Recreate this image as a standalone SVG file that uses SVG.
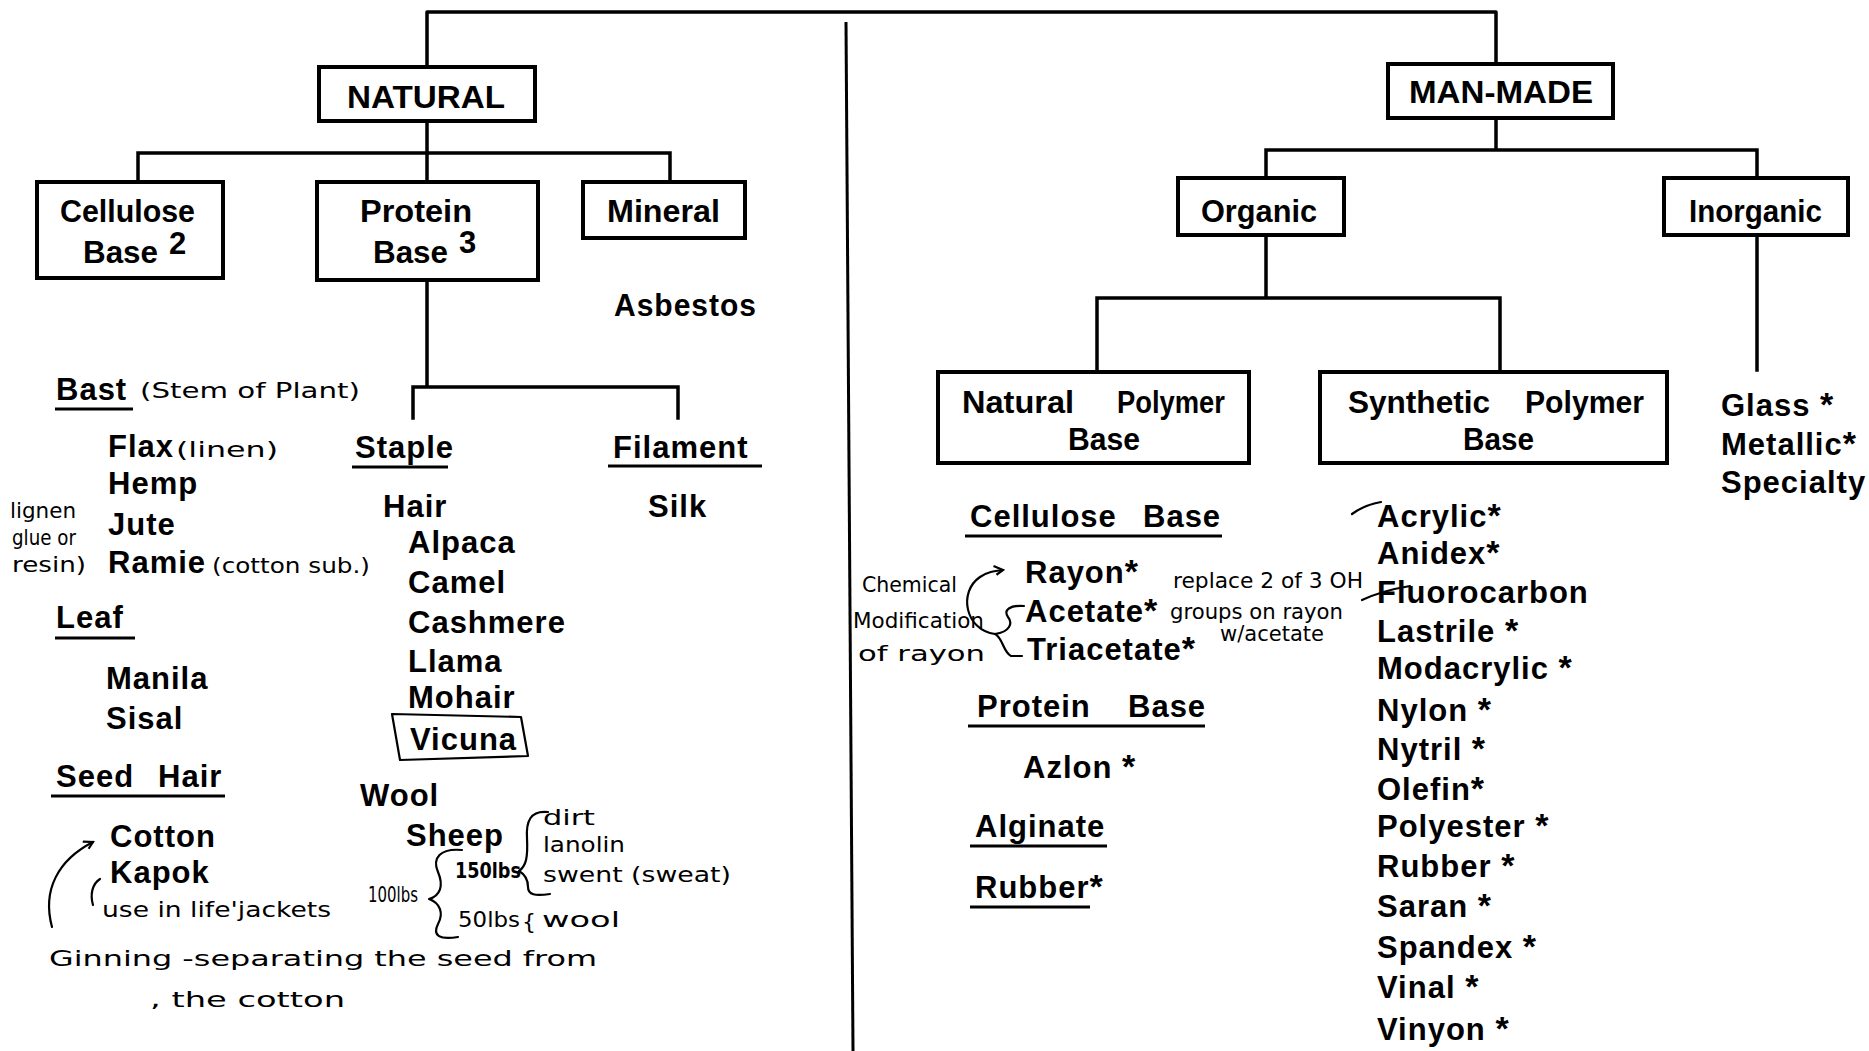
<svg xmlns="http://www.w3.org/2000/svg" width="1869" height="1051" viewBox="0 0 1869 1051">
<defs>
<style>
.box{fill:#fff;stroke:#000;stroke-width:4}
.conn{fill:none;stroke:#000;stroke-width:3.5;stroke-linecap:square;stroke-linejoin:round}
.t{font-family:"Liberation Sans",Arial,sans-serif;font-weight:bold;font-size:31px;fill:#000;letter-spacing:1px}
.b{font-family:"Liberation Sans",Arial,sans-serif;font-weight:bold;font-size:31px;fill:#000}
.ast{font-size:34px}
.h{font-family:"DejaVu Sans",sans-serif;font-size:22px;fill:#000}
.ul{stroke:#000;stroke-width:3;fill:none}
.pen{fill:none;stroke:#000;stroke-width:2.2;stroke-linecap:round;stroke-linejoin:round}
</style>
<marker id="arr" viewBox="0 0 12 12" refX="10" refY="6" markerWidth="12" markerHeight="12" markerUnits="userSpaceOnUse" orient="auto">
<path d="M1,1 L10,6 L3,10" fill="none" stroke="#000" stroke-width="2.2"/>
</marker>
</defs>
<rect width="1869" height="1051" fill="#fff"/>

<g id="connectors">
<path class="conn" d="M427,67 V12 H1496 V64"/>
<path class="conn" d="M427,121 V153 M138,153 H670 M138,153 V182 M427,153 V182 M670,153 V182"/>
<path class="conn" d="M427,280 V387 M413,387 H678 M413,387 V418 M678,387 V418"/>
<path class="conn" d="M1496,118 V150 M1266,150 H1757 M1266,150 V178 M1757,150 V178"/>
<path class="conn" d="M1266,235 V298 M1097,298 H1500 M1097,298 V372 M1500,298 V372"/>
<path class="conn" d="M1757,235 V370"/>
</g>
<g id="divider">
<path d="M846,22 L853,1051" stroke="#000" stroke-width="3" fill="none"/>
</g>

<g id="natural">
<rect class="box" x="319" y="67" width="216" height="54"/>
<text class="b" x="347" y="108" font-size="32" textLength="158" lengthAdjust="spacingAndGlyphs">NATURAL</text>
</g>
<g id="man-made">
<rect class="box" x="1388" y="64" width="225" height="54"/>
<text class="b" x="1409" y="103" font-size="32" textLength="184" lengthAdjust="spacingAndGlyphs">MAN-MADE</text>
</g>
<g id="cellulose-base">
<rect class="box" x="37" y="182" width="186" height="96"/>
<text class="b" x="60" y="222" textLength="135" lengthAdjust="spacingAndGlyphs">Cellulose</text>
<text class="b" x="83" y="263" textLength="75" lengthAdjust="spacingAndGlyphs">Base</text>
<text class="b" x="169" y="254" font-size="27" font-weight="normal">2</text>
</g>
<g id="protein-base">
<rect class="box" x="317" y="182" width="221" height="98"/>
<text class="b" x="360" y="222" textLength="112" lengthAdjust="spacingAndGlyphs">Protein</text>
<text class="b" x="373" y="263" textLength="75" lengthAdjust="spacingAndGlyphs">Base</text>
<text class="b" x="459" y="253" font-size="27" font-weight="normal">3</text>
</g>
<g id="mineral">
<rect class="box" x="583" y="182" width="162" height="56"/>
<text class="b" x="607" y="222" textLength="113" lengthAdjust="spacingAndGlyphs">Mineral</text>
</g>
<g id="organic">
<rect class="box" x="1178" y="178" width="166" height="57"/>
<text class="b" x="1201" y="222" textLength="116" lengthAdjust="spacingAndGlyphs">Organic</text>
</g>
<g id="inorganic">
<rect class="box" x="1664" y="178" width="184" height="57"/>
<text class="b" x="1689" y="222" textLength="133" lengthAdjust="spacingAndGlyphs">Inorganic</text>
</g>
<g id="natural-polymer-base">
<rect class="box" x="938" y="372" width="311" height="91"/>
<text class="b" x="962" y="413" textLength="112" lengthAdjust="spacingAndGlyphs">Natural</text>
<text class="b" x="1117" y="413" textLength="108" lengthAdjust="spacingAndGlyphs">Polymer</text>
<text class="b" x="1068" y="450" textLength="72" lengthAdjust="spacingAndGlyphs">Base</text>
</g>
<g id="synthetic-polymer-base">
<rect class="box" x="1320" y="372" width="347" height="91"/>
<text class="b" x="1348" y="413" textLength="142" lengthAdjust="spacingAndGlyphs">Synthetic</text>
<text class="b" x="1525" y="413" textLength="119" lengthAdjust="spacingAndGlyphs">Polymer</text>
<text class="b" x="1463" y="450" textLength="71" lengthAdjust="spacingAndGlyphs">Base</text>
</g>

<g id="mineral-list">
<text class="t" x="614" y="316" textLength="143" lengthAdjust="spacingAndGlyphs">Asbestos</text>
</g>

<g id="bast">
<text class="t" x="56" y="400">Bast</text>
<path class="ul" d="M55,409 H133"/>
<text class="h" x="140" y="398" font-size="25" textLength="220" lengthAdjust="spacingAndGlyphs">(Stem of Plant)</text>
<text class="t" x="108" y="457">Flax</text>
<text class="h" x="176" y="457" font-size="25" textLength="102" lengthAdjust="spacingAndGlyphs">(linen)</text>
<text class="t" x="108" y="494">Hemp</text>
<text class="t" x="108" y="535">Jute</text>
<text class="t" x="108" y="573">Ramie</text>
<text class="h" x="212" y="573" font-size="25" textLength="158" lengthAdjust="spacingAndGlyphs">(cotton sub.)</text>
<text class="h" x="10" y="518" font-size="19" textLength="66" lengthAdjust="spacingAndGlyphs">lignen</text>
<text class="h" x="12" y="545" font-size="19" textLength="64" lengthAdjust="spacingAndGlyphs">glue or</text>
<text class="h" x="12" y="572" font-size="19" textLength="74" lengthAdjust="spacingAndGlyphs">resin)</text>
</g>
<g id="leaf">
<text class="t" x="56" y="628">Leaf</text>
<path class="ul" d="M55,638 H135"/>
<text class="t" x="106" y="689">Manila</text>
<text class="t" x="106" y="729">Sisal</text>
</g>
<g id="seed-hair">
<text class="t" x="56" y="787">Seed</text>
<text class="t" x="158" y="787">Hair</text>
<path class="ul" d="M51,796 H225"/>
<text class="t" x="110" y="847">Cotton</text>
<text class="t" x="110" y="883">Kapok</text>
<path class="pen" d="M52,927 C42,890 58,860 93,842" marker-end="url(#arr)"/>
<path class="pen" d="M100,879 C92,884 90,895 93,905"/>
<text class="h" x="102" y="917" font-size="25" textLength="229" lengthAdjust="spacingAndGlyphs">use in life'jackets</text>
<text class="h" x="49" y="966" font-size="28" textLength="548" lengthAdjust="spacingAndGlyphs">Ginning -separating  the seed from</text>
<text class="h" x="150" y="1007" font-size="25" textLength="195" lengthAdjust="spacingAndGlyphs">, the cotton</text>
</g>

<g id="staple">
<text class="t" x="355" y="458">Staple</text>
<path class="ul" d="M352,467 H448"/>
<text class="t" x="383" y="517">Hair</text>
<text class="t" x="408" y="553">Alpaca</text>
<text class="t" x="408" y="593">Camel</text>
<text class="t" x="408" y="633">Cashmere</text>
<text class="t" x="408" y="672">Llama</text>
<text class="t" x="408" y="708">Mohair</text>
<text class="t" x="410" y="750">Vicuna</text>
<path class="pen" stroke-width="3" d="M392,714 L521,717 L528,756 L400,760 Z"/>
<text class="t" x="360" y="806">Wool</text>
<text class="t" x="406" y="846">Sheep</text>
<text class="h" x="455" y="878" font-size="24" font-weight="bold" textLength="66" lengthAdjust="spacingAndGlyphs">150lbs</text>
<text class="h" x="368" y="902" font-size="22" textLength="50" lengthAdjust="spacingAndGlyphs">100lbs</text>
<path class="pen" stroke-width="2.6" d="M462,850 C440,848 432,858 438,872 C444,886 440,896 429,899 C440,903 444,913 438,924 C432,936 440,940 458,937"/>
<text class="h" x="458" y="927" font-size="24" textLength="62" lengthAdjust="spacingAndGlyphs">50lbs</text>
<text class="h" x="522" y="929" font-size="26">{</text>
<text class="h" x="542" y="927" font-size="26" textLength="78" lengthAdjust="spacingAndGlyphs">wool</text>
<path class="pen" stroke-width="2.6" d="M548,812 C530,810 526,822 527,838 C528,858 526,866 519,871 C526,875 528,882 528,887 C528,895 535,896 550,894"/>
<text class="h" x="543" y="825" font-size="22" textLength="52" lengthAdjust="spacingAndGlyphs">dirt</text>
<text class="h" x="543" y="852" font-size="22" textLength="82" lengthAdjust="spacingAndGlyphs">lanolin</text>
<text class="h" x="543" y="882" font-size="22" textLength="188" lengthAdjust="spacingAndGlyphs">swent (sweat)</text>
</g>
<g id="filament">
<text class="t" x="613" y="458">Filament</text>
<path class="ul" d="M608,466 H762"/>
<text class="t" x="648" y="517">Silk</text>
</g>

<g id="natural-polymer-list">
<text class="t" x="970" y="527">Cellulose</text>
<text class="t" x="1143" y="527">Base</text>
<path class="ul" d="M965,536 H1222"/>
<text class="t" x="1025" y="583">Rayon<tspan class="ast">*</tspan></text>
<text class="t" x="1025" y="622">Acetate<tspan class="ast">*</tspan></text>
<text class="t" x="1027" y="660">Triacetate<tspan class="ast">*</tspan></text>
<path class="pen" stroke-width="2.6" d="M995,634 C965,630 958,592 980,577 C987,572 994,571 1003,570" marker-end="url(#arr)"/>
<path class="pen" stroke-width="2.6" d="M995,634 C1010,632 1013,623 1008,617 C1003,610 1010,605 1024,606"/>
<path class="pen" stroke-width="2.6" d="M995,634 C1003,638 1003,652 1011,656 L1022,656"/>
<text class="h" x="862" y="592" font-size="22" textLength="95" lengthAdjust="spacingAndGlyphs">Chemical</text>
<text class="h" x="853" y="628" font-size="22" textLength="131" lengthAdjust="spacingAndGlyphs">Modification</text>
<text class="h" x="858" y="661" font-size="22" textLength="127" lengthAdjust="spacingAndGlyphs">of rayon</text>
<text class="h" x="1173" y="588" font-size="22" textLength="190" lengthAdjust="spacingAndGlyphs">replace  2 of 3 OH</text>
<text class="h" x="1170" y="619" font-size="22" textLength="173" lengthAdjust="spacingAndGlyphs">groups on rayon</text>
<text class="h" x="1220" y="641" font-size="17" textLength="104" lengthAdjust="spacingAndGlyphs">w/acetate</text>
<text class="t" x="977" y="717">Protein</text>
<text class="t" x="1128" y="717">Base</text>
<path class="ul" d="M968,726 H1205"/>
<text class="t" x="1023" y="778">Azlon <tspan class="ast">*</tspan></text>
<text class="t" x="975" y="837">Alginate</text>
<path class="ul" d="M970,846 H1107"/>
<text class="t" x="975" y="898">Rubber<tspan class="ast">*</tspan></text>
<path class="ul" d="M970,907 H1090"/>
</g>

<g id="synthetic-polymer-list">
<path class="pen" d="M1352,514 C1360,508 1370,504 1381,502"/>
<path class="pen" d="M1362,600 C1375,594 1392,589 1410,586"/>
<text class="t" x="1377" y="527">Acrylic<tspan class="ast">*</tspan></text>
<text class="t" x="1377" y="564">Anidex<tspan class="ast">*</tspan></text>
<text class="t" x="1377" y="603">Fluorocarbon</text>
<text class="t" x="1377" y="642">Lastrile <tspan class="ast">*</tspan></text>
<text class="t" x="1377" y="679">Modacrylic <tspan class="ast">*</tspan></text>
<text class="t" x="1377" y="721">Nylon <tspan class="ast">*</tspan></text>
<text class="t" x="1377" y="760">Nytril <tspan class="ast">*</tspan></text>
<text class="t" x="1377" y="800">Olefin<tspan class="ast">*</tspan></text>
<text class="t" x="1377" y="837">Polyester <tspan class="ast">*</tspan></text>
<text class="t" x="1377" y="877">Rubber <tspan class="ast">*</tspan></text>
<text class="t" x="1377" y="917">Saran <tspan class="ast">*</tspan></text>
<text class="t" x="1377" y="958">Spandex <tspan class="ast">*</tspan></text>
<text class="t" x="1377" y="998">Vinal <tspan class="ast">*</tspan></text>
<text class="t" x="1377" y="1040">Vinyon <tspan class="ast">*</tspan></text>
</g>

<g id="inorganic-list">
<text class="t" x="1721" y="416">Glass <tspan class="ast">*</tspan></text>
<text class="t" x="1721" y="455">Metallic<tspan class="ast">*</tspan></text>
<text class="t" x="1721" y="493">Specialty</text>
</g>
</svg>
